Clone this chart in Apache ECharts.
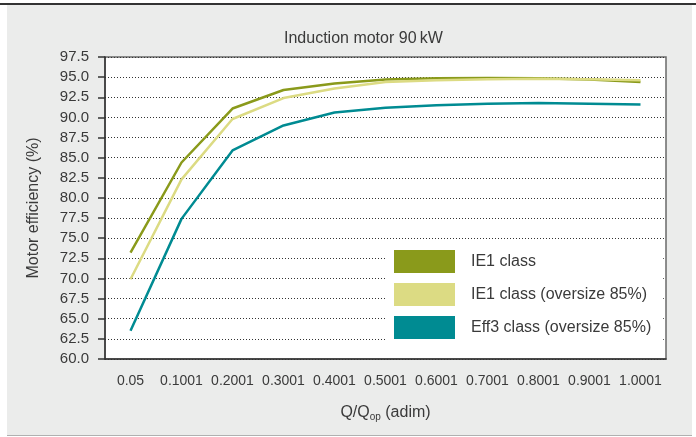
<!DOCTYPE html>
<html>
<head>
<meta charset="utf-8">
<script src="https://cdn.jsdelivr.net/npm/echarts@6/dist/echarts.min.js"></script>
<style>
  body { margin: 0; background: #fff; }
  .topline { position: absolute; left: 0; top: 3px; width: 696px; height: 2px; background: #333; }
  .panel { position: absolute; left: 7px; top: 5px; width: 685px; height: 430px; background: #ebeceb; border-bottom: 1px solid #b0b0b0; }
  #chart { position: absolute; left: 0; top: 0; width: 696px; height: 437px; }
</style>
</head>
<body>
<div class="topline"></div>
<div class="panel"></div>
<div id="chart"></div>
<script>
// Q/Qop categories
var categories = ['0.05', '0.1001', '0.2001', '0.3001', '0.4001', '0.5001', '0.6001', '0.7001', '0.8001', '0.9001', '1.0001'];

// motor efficiency (%)
var ie1 = [73.2, 84.4, 91.1, 93.4, 94.2, 94.7, 94.85, 94.9, 94.85, 94.7, 94.4];
var ie1Oversize = [69.9, 82.3, 89.8, 92.4, 93.6, 94.4, 94.6, 94.75, 94.8, 94.75, 94.6];
var eff3Oversize = [63.5, 77.4, 85.9, 89.0, 90.6, 91.2, 91.5, 91.7, 91.8, 91.7, 91.6];

var seriesNames = ['IE1 class', 'IE1 class (oversize 85%)', 'Eff3 class (oversize 85%)'];

var font = '"Liberation Sans", Arial, sans-serif';
var textColor = '#3a3a3a';

var chart = echarts.init(document.getElementById('chart'), null, { renderer: 'canvas' });

function line(name, data, color) {
  return {
    name: name,
    type: 'line',
    data: data,
    showSymbol: false,
    symbol: 'none',
    lineStyle: { color: color, width: 2.5 },
    itemStyle: { color: color }
  };
}

var option = {
  backgroundColor: 'transparent',
  animation: false,
  textStyle: { fontFamily: font },
  title: {
    text: 'Induction motor 90\u2009kW',
    left: 284,
    top: 31,
    padding: 0,
    textStyle: { fontSize: 16, fontWeight: 'normal', color: textColor, fontFamily: font }
  },
  grid: {
    left: 105, right: 30, top: 57, bottom: 78,
    show: true,
    backgroundColor: '#fff',
    borderColor: '#6a6a6a',
    borderWidth: 1.5
  },
  legend: {
    orient: 'vertical',
    left: 386,
    top: 242,
    padding: [8, 12, 8, 8],
    backgroundColor: '#fff',
    icon: 'rect',
    itemWidth: 61,
    itemHeight: 23,
    itemGap: 10,
    data: seriesNames,
    textStyle: { fontSize: 16, color: textColor, fontFamily: font, padding: [0, 0, 0, 11] }
  },
  xAxis: {
    type: 'category',
    data: categories,
    boundaryGap: true,
    name: 'Q/Q{s|op} (adim)',
    nameLocation: 'middle',
    nameGap: 44,
    nameTextStyle: {
      fontSize: 16, color: textColor, fontFamily: font,
      rich: { s: { fontSize: 10, color: textColor, padding: [9, 0, 0, 0] } }
    },
    axisLine: { lineStyle: { color: '#333', width: 1.5 } },
    axisTick: { length: 7, lineStyle: { color: '#333', width: 1.5 } },
    axisLabel: { fontSize: 14, color: textColor, margin: 15, interval: 0 }
  },
  yAxis: {
    type: 'value',
    min: 60,
    max: 97.5,
    interval: 2.5,
    name: 'Motor efficiency (%)',
    nameLocation: 'middle',
    nameGap: 63,
    nameTextStyle: { fontSize: 16, color: textColor, fontFamily: font },
    axisLine: { show: true, lineStyle: { color: '#333', width: 1.5 } },
    axisTick: { show: true, length: 7, lineStyle: { color: '#333', width: 1.5 } },
    axisLabel: {
      fontSize: 15, color: textColor, margin: 16,
      formatter: function (v) { return v.toFixed(1); }
    },
    splitLine: { lineStyle: { color: '#333', width: 1, type: [1, 2] } }
  },
  series: [
    line(seriesNames[0], ie1, '#8a9a1b'),
    line(seriesNames[1], ie1Oversize, '#dcdb83'),
    line(seriesNames[2], eff3Oversize, '#008b92')
  ]
};

chart.setOption(option);
window.addEventListener('resize', function () { chart.resize(); });
</script>
</body>
</html>
